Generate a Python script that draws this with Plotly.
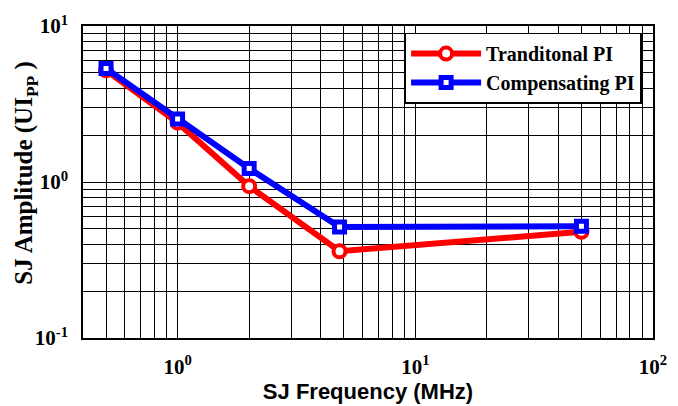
import plotly.graph_objects as go

freq = [0.5, 1, 2, 4.8, 50]
trad_pi = [5.2, 2.4, 0.94, 0.36, 0.48]
comp_pi = [5.35, 2.53, 1.22, 0.515, 0.52]

x_major = [1, 10, 100]
x_major_text = ["10<sup>0</sup>", "10<sup>1</sup>", "10<sup>2</sup>"]
x_minor = [0.5, 0.6, 0.7, 0.8, 0.9, 2, 3, 4, 5, 6, 7, 8, 9, 20, 30, 40, 50, 60, 70, 80, 90]
y_major = [0.1, 1, 10]
y_major_text = ["10<sup>-1</sup>", "10<sup>0</sup>", "10<sup>1</sup>"]
y_minor = [0.2, 0.3, 0.4, 0.5, 0.6, 0.7, 0.8, 0.9, 2, 3, 4, 5, 6, 7, 8, 9]

serif = "Liberation Serif"
sans = "Liberation Sans"

fig = go.Figure()
fig.add_trace(go.Scatter(
    x=freq, y=trad_pi, mode="lines+markers", name="Tranditonal PI",
    line=dict(color="#ff0000", width=6),
    marker=dict(symbol="circle", size=12, color="white", line=dict(color="#ff0000", width=4)),
))
fig.add_trace(go.Scatter(
    x=freq, y=comp_pi, mode="lines+markers", name="Compensating PI",
    line=dict(color="#0000ff", width=6),
    marker=dict(symbol="square", size=10, color="white", line=dict(color="#0000ff", width=5)),
))

axis_common = dict(
    type="log", showline=True, linecolor="black", linewidth=1.5, mirror=True,
    showgrid=True, gridcolor="black", gridwidth=1, zeroline=False,
    ticks="", tickmode="array", automargin=False,
    tickfont=dict(family=serif, size=21, color="black", weight="bold"),
)

fig.update_xaxes(
    **axis_common,
    range=[-0.39794, 2],
    tickvals=x_major, ticktext=x_major_text,
    minor=dict(tickmode="array", tickvals=x_minor, showgrid=True, gridcolor="black", gridwidth=1, ticks=""),
    title=dict(text="SJ Frequency (MHz)", font=dict(family=sans, size=22, color="black", weight="bold"), standoff=6),
    ticklabelstandoff=9,
)
fig.update_yaxes(
    **axis_common,
    range=[-1, 1],
    tickvals=y_major, ticktext=y_major_text,
    minor=dict(tickmode="array", tickvals=y_minor, showgrid=True, gridcolor="black", gridwidth=1, ticks=""),
    ticklabelstandoff=9,
)

fig.add_annotation(
    text="SJ Amplitude (UI<sub>PP</sub> )", textangle=-90,
    xref="paper", yref="paper", x=-0.1, y=0.53, xanchor="center", yanchor="middle",
    showarrow=False, font=dict(family=serif, size=25, color="black", weight="bold"),
)

fig.update_layout(
    width=678, height=406,
    margin=dict(l=83, r=25, t=26, b=68),
    paper_bgcolor="white", plot_bgcolor="white",
    showlegend=True,
    legend=dict(
        x=0.98, y=0.979, xanchor="right", yanchor="top",
        bgcolor="white", bordercolor="black", borderwidth=1.5,
        font=dict(family=serif, size=20, color="black", weight="bold"),
        itemwidth=70, tracegroupgap=0,
    ),
)

fig.write_html("out.html")
